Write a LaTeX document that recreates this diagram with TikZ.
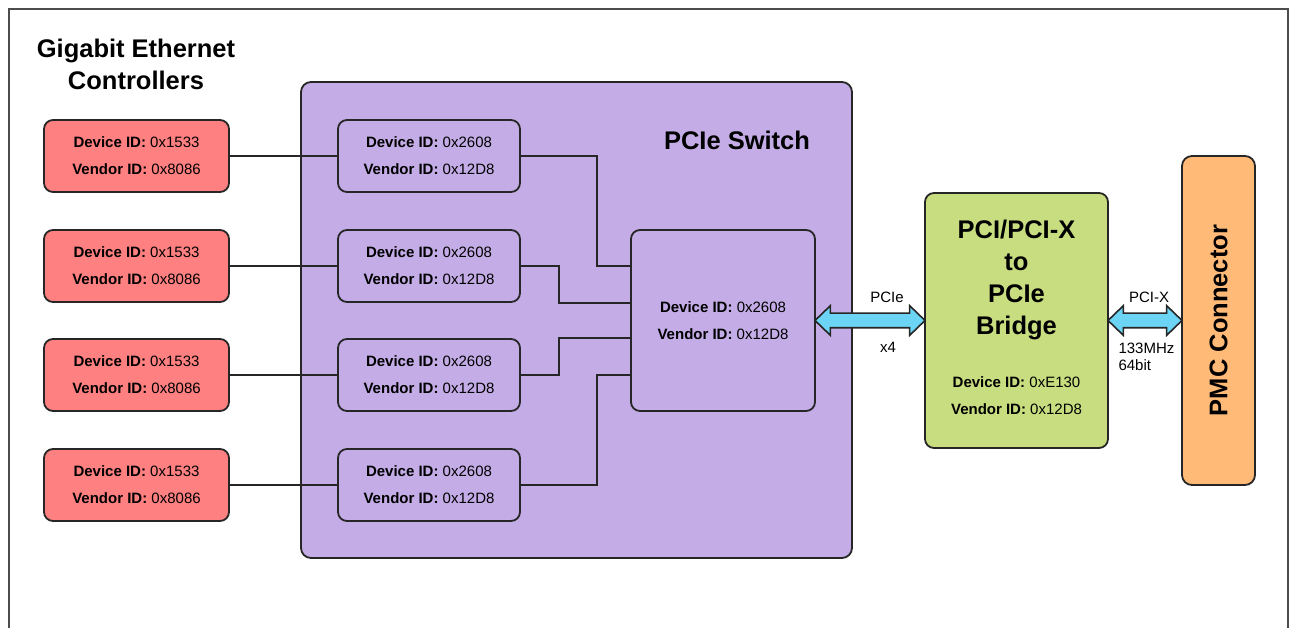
\documentclass[tikz,border=0pt]{standalone}
\usepackage{fontspec}
\setmainfont{Liberation Sans}
\usetikzlibrary{shapes.arrows,calc}

\definecolor{ethred}{RGB}{255,128,128}
\definecolor{swpurple}{RGB}{196,173,230}
\definecolor{brgreen}{RGB}{200,221,128}
\definecolor{pmcorange}{RGB}{255,186,120}
\definecolor{busblue}{RGB}{108,212,244}

\newcommand{\idtext}[2]{\textbf{Device ID:} #1\\\textbf{Vendor ID:} #2}

\begin{document}
\begin{tikzpicture}[x=1pt,y=-1pt,
		idbox/.style={draw=black!85, line width=1.8pt, rounded corners=9pt,
			minimum height=72pt, inner sep=0pt, align=center,
			font=\fontsize{15}{27}\selectfont},
		bigbox/.style={draw=black!85, line width=1.8pt, rounded corners=10pt, inner sep=0pt},
		title/.style={align=center, font=\fontsize{25.5}{32}\selectfont\bfseries},
		link/.style={line width=1.8pt, black!85},
		bus/.style={double arrow, draw=black!85, line width=1.6pt, fill=busblue,
			inner xsep=0pt, inner ysep=6.5pt, double arrow head extend=7.5pt,
			double arrow tip angle=88},
		buslabel/.style={font=\fontsize{15}{17}\selectfont}]
	\useasboundingbox (0,0) rectangle (1296,628);
	\draw[line width=2.5pt, black!70] (9,628) -- (9,9) -- (1288,9) -- (1288,628);

	\node[title] (gbe) at (136,64.5) {Gigabit Ethernet\\Controllers};

	\node[bigbox, fill=swpurple, minimum width=551pt, minimum height=476pt] (sw) at (576.5,320) {};
	\node[title] (swlabel) at (737,140) {PCIe Switch};
	\node[idbox, fill=swpurple, minimum width=184pt, minimum height=181pt] (swchip) at (723,320.5)
		{\idtext{0x2608}{0x12D8}};

	\foreach \y [count=\i] in {156,266,375,485} {
		\node[idbox, fill=ethred, minimum width=185pt] (eth\i) at (136.5,\y) {\idtext{0x1533}{0x8086}};
		\node[idbox, fill=swpurple, minimum width=182pt] (port\i) at (429,\y) {\idtext{0x2608}{0x12D8}};
		\draw[link] (eth\i) -- (port\i);
	}
	\foreach \i/\dx/\ty in {1/76/266, 2/38/303, 3/38/338, 4/76/375}
		\draw[link] (port\i.east) -- ++(\dx,0) |- (swchip.west |- 0,\ty);

	\node[bigbox, fill=brgreen, rounded corners=9pt, minimum width=183pt, minimum height=255pt] (bridge) at (1016.5,320.5) {};
	\node[title] (brlabel) at (1016.5,280) {PCI/PCI-X\\to\\PCIe\\Bridge};
	\node[align=center, font=\fontsize{15}{27}\selectfont] (brid) at (1016.5,396) {\idtext{0xE130}{0x12D8}};

	\node[bigbox, fill=pmcorange, minimum width=73pt, minimum height=329pt] (pmc) at (1218.5,320.5) {};
	\node[title, rotate=90] (pmclabel) at (pmc.center) {PMC Connector};

	\node[bus, minimum height=110pt] (pcie) at ($(swchip.east)!0.5!(bridge.west)$) {};
	\node[buslabel] (pcietop) at (887,297) {PCIe};
	\node[buslabel] (pciebot) at (888,347) {x4};

	\node[bus, minimum height=74pt] (pcix) at ($(bridge.east)!0.5!(pmc.west)$) {};
	\node[buslabel] (pcixtop) at (1149,297) {PCI-X};
	\node[buslabel, align=left, anchor=west] (pcixbot) at (1115,356.5) {133MHz\\64bit};
\end{tikzpicture}
\end{document}
